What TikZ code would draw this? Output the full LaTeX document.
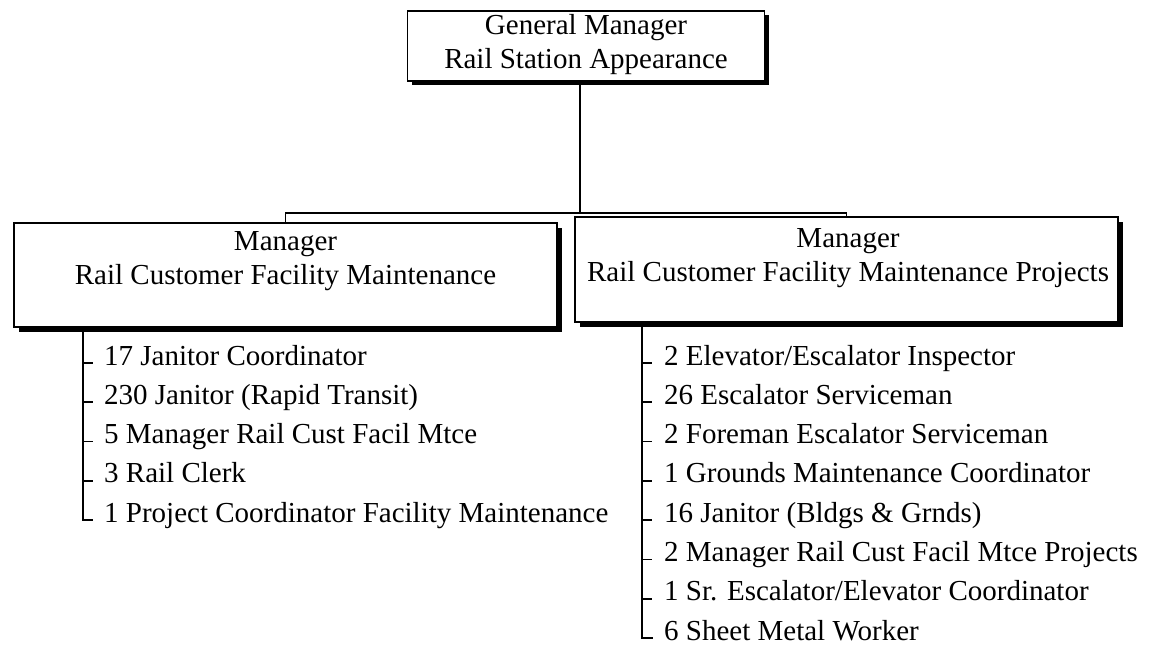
\documentclass[tikz,border=0pt]{standalone}
\usepackage{fontspec}
\setmainfont{Liberation Serif}
\usetikzlibrary{shadows}
\begin{document}
\begin{tikzpicture}[x=1pt,y=-1pt,
  box/.style={draw=black, line width=1.7pt, fill=white, inner sep=0pt,
    drop shadow={shadow xshift=4.5pt, shadow yshift=-4.5pt, fill=black, opacity=1}},
  boxtext/.style={font=\fontsize{29}{34}\selectfont, align=center, inner sep=0pt},
  item/.style={font=\fontsize{29}{34}\selectfont, anchor=base west, inner sep=0pt},
  conn/.style={draw=black, line width=1.7pt},
  tick/.style={draw=black, line width=1.7pt}]
\useasboundingbox (0,0) rectangle (1150,655);
% top box
\node[box, minimum width=357pt, minimum height=70pt] (gm) at (586,46) {};
\node[boxtext] (gmt) at (586,45) {General Manager\\Rail Station Appearance};
% managers
\node[box, minimum width=543pt, minimum height=104pt] (lm) at (285.5,275) {};
\node[boxtext] (lmt) at (285.5,261) {Manager\\Rail Customer Facility Maintenance};
\node[box, minimum width=543pt, minimum height=105pt] (rm) at (846.5,269.5) {};
\node[boxtext] (rmt) at (848,258) {Manager\\Rail Customer Facility Maintenance Projects};
% connectors
\coordinate (j) at (580,213);
\draw[conn] (gm.south -| j) -- (j);
\draw[conn] (lm.north) |- (j) -| (rm.north);
% left list
\foreach \t [count=\i] in {17 Janitor Coordinator, 230 Janitor (Rapid Transit), 5 Manager Rail Cust Facil Mtce, 3 Rail Clerk, 1 Project Coordinator Facility Maintenance}
  \node[item] (l\i) at (104,{365+39.3*(\i-1)}) {\t};
\coordinate (ltop) at (83,332);
\draw[conn] (ltop) |- ([xshift=-11pt,yshift=2pt]l5.base west);
\foreach \i in {1,...,4}
  \draw[tick] ([xshift=-21pt,yshift=2pt]l\i.base west) -- ([xshift=-11pt,yshift=2pt]l\i.base west);
% right list
\foreach \t [count=\i] in {2 Elevator/Escalator Inspector, 26 Escalator Serviceman, 2 Foreman Escalator Serviceman, 1 Grounds Maintenance Coordinator, 16 Janitor (Bldgs \& Grnds), 2 Manager Rail Cust Facil Mtce Projects, 1 Sr. Escalator/Elevator Coordinator, 6 Sheet Metal Worker}
  \node[item] (r\i) at (664,{365+39.3*(\i-1)}) {\t};
\coordinate (rtop) at (642,327);
\draw[conn] (rtop) |- ([xshift=-11pt,yshift=2pt]r8.base west);
\foreach \i in {1,...,7}
  \draw[tick] ([xshift=-22pt,yshift=2pt]r\i.base west) -- ([xshift=-12pt,yshift=2pt]r\i.base west);
\end{tikzpicture}
\end{document}
